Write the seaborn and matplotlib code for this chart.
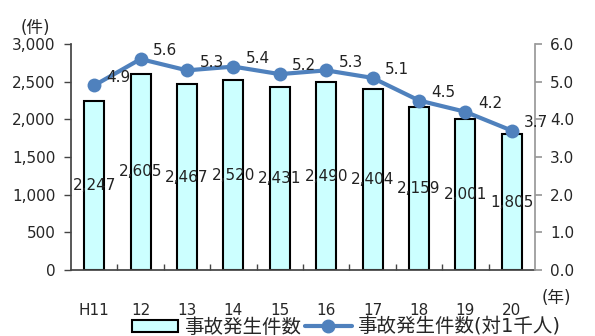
import matplotlib
matplotlib.use("Agg")
import matplotlib.pyplot as plt
import seaborn as sns
import pandas as pd
from matplotlib.patches import Patch
from matplotlib.lines import Line2D

years = ["H11", "12", "13", "14", "15", "16", "17", "18", "19", "20"]
accidents = [2247, 2605, 2467, 2520, 2431, 2490, 2404, 2159, 2001, 1805]
rate = [4.9, 5.6, 5.3, 5.4, 5.2, 5.3, 5.1, 4.5, 4.2, 3.7]

sns.set_theme(style="white")
plt.rcParams['font.family'] = ['DejaVu Sans', 'Noto Sans CJK JP']

df = pd.DataFrame({"year": years, "accidents": accidents, "rate": rate})

fig = plt.figure(figsize=(5.95, 3.36), dpi=100)
ax = fig.add_axes([71/595, 1-270/336, (535-71)/595, (270-44)/336])

sns.barplot(data=df, x="year", y="accidents", ax=ax, color="#CCFFFF",
            edgecolor="black", linewidth=1.5, width=0.43, saturation=1)
ax.set_ylim(0, 3000)
ax.set_xlim(-0.5, len(years) - 0.5)
ax.set_yticks(range(0, 3001, 500))
ax.set_yticklabels([f"{v:,}" for v in range(0, 3001, 500)], fontsize=11)
ax.set_xlabel("")
ax.set_ylabel("")
ax.tick_params(axis="x", length=0, pad=24, labelsize=11)
ax.tick_params(axis="y", direction="out", length=5, width=1, left=True, color="#444444", pad=6)
ax.set_xticks([i + 0.5 for i in range(len(years) - 1)], minor=True)
ax.tick_params(axis="x", which="minor", direction="in", length=4, bottom=True, color="#444444")
for s in ["top", "right"]:
    ax.spines[s].set_visible(False)
ax.spines["left"].set_color("#444444")
ax.spines["bottom"].set_color("#444444")

for i, v in enumerate(accidents):
    ax.text(i, v / 2, f"{v:,}", ha="center", va="center", fontsize=11, color="#222222")

ax2 = ax.twinx()
sns.lineplot(data=df, x="year", y="rate", ax=ax2, color="#4F81BD", linewidth=3,
             marker="o", markersize=10, markeredgewidth=0, sort=False)
ax2.set_ylim(0, 6)
ax2.set_yticks([i * 1.0 for i in range(7)])
ax2.set_yticklabels([f"{i:.1f}" for i in range(7)], fontsize=11)
ax2.set_ylabel("")
ax2.set_xlabel("")
ax2.tick_params(axis="y", direction="out", length=5, right=True, color="#999999", pad=6)
for s in ["top", "left", "bottom"]:
    ax2.spines[s].set_visible(False)
ax2.spines["right"].set_color("#999999")

for i, v in enumerate(rate):
    ax2.annotate(f"{v:.1f}", (i, v), xytext=(9, 6), textcoords="offset points",
                 ha="left", va="center", fontsize=11, color="#222222")

fig.text(35/595, 1-28/336, "(件)", ha="center", va="center", fontsize=12)
fig.text(556/595, 1-298/336, "(年)", ha="center", va="center", fontsize=12)

handles = [Patch(facecolor="#CCFFFF", edgecolor="black", linewidth=1.5),
           Line2D([0], [0], color="#4F81BD", linewidth=3, marker="o", markersize=9)]
fig.legend(handles, ["事故発生件数", "事故発生件数(対1千人)"], loc="center",
           bbox_to_anchor=(346/595, 1-327/336), ncol=2, frameon=False, fontsize=14,
           handlelength=2.4, handleheight=0.6, handletextpad=0.3, columnspacing=0.2)

fig.savefig("out.png", dpi=100)
